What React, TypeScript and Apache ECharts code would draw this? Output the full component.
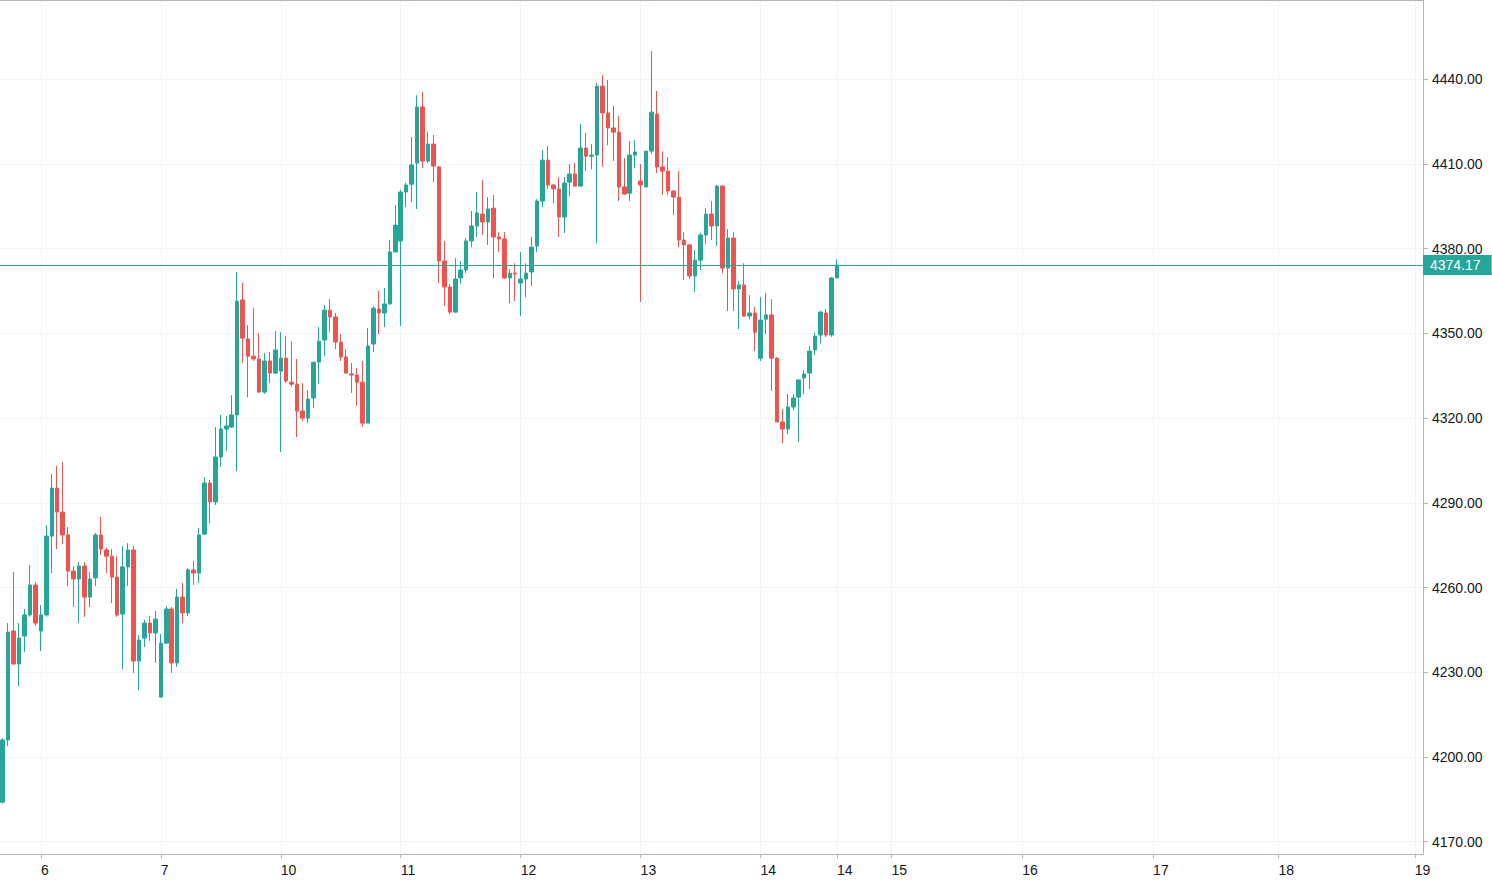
import React, { useEffect, useRef } from "react";
import * as echarts from "echarts";

// Hourly candles (open, high, low, close)
const opens = [
  4184.0, 4206.0, 4244.6, 4232.9, 4242.8, 4250.3, 4260.9, 4244.6, 4250.3, 4278.2,
  4295.2, 4286.7, 4278.6, 4265.8, 4263.0, 4267.6, 4256.6, 4263.4, 4278.6, 4273.3,
  4271.1, 4263.7, 4250.6, 4267.3, 4273.3, 4234.0, 4242.1, 4247.4, 4243.9, 4221.2,
  4240.3, 4252.4, 4233.3, 4256.6, 4251.0, 4266.2, 4265.1, 4278.9, 4297.0, 4290.3,
  4306.2, 4316.1, 4316.8, 4321.1, 4361.8, 4348.0, 4341.9, 4340.9, 4329.2, 4340.2,
  4335.9, 4336.6, 4341.2, 4332.7, 4332.0, 4322.5, 4320.0, 4327.1, 4339.8, 4347.6,
  4358.2, 4355.8, 4346.9, 4341.6, 4335.6, 4335.2, 4332.7, 4318.2, 4346.2, 4358.6,
  4357.2, 4360.4, 4378.8, 4382.7, 4400.0, 4402.8, 4410.3, 4430.1, 4411.0, 4417.0,
  4408.9, 4375.6, 4366.4, 4357.5, 4369.6, 4372.4, 4382.7, 4388.0, 4392.2, 4389.4,
  4394.3, 4384.1, 4383.4, 4369.6, 4371.3, 4367.8, 4369.2, 4371.7, 4380.9, 4396.8,
  4411.3, 4402.5, 4401.1, 4391.2, 4403.5, 4406.4, 4402.1, 4415.6, 4412.7, 4413.1,
  4437.5, 4428.0, 4422.7, 4421.2, 4401.8, 4399.6, 4413.1, 4403.9, 4401.8, 4414.5,
  4427.6, 4408.9, 4407.4, 4400.4, 4398.2, 4383.0, 4381.3, 4370.3, 4375.9, 4384.8,
  4392.2, 4388.0, 4402.1, 4373.1, 4383.7, 4365.7, 4367.1, 4356.1, 4357.2, 4341.2,
  4355.0, 4356.5, 4341.2, 4318.6, 4316.1, 4323.9, 4327.4, 4334.2, 4335.9, 4344.1,
  4349.4, 4357.2, 4349.4, 4369.6,
];
const highs = [
  4206.7, 4247.4, 4265.5, 4247.4, 4252.4, 4268.0, 4261.9, 4253.8, 4282.1, 4300.2,
  4303.0, 4304.4, 4281.4, 4267.6, 4269.0, 4269.0, 4265.5, 4279.3, 4285.0, 4274.0,
  4273.6, 4271.1, 4274.7, 4275.7, 4274.7, 4243.2, 4248.5, 4249.9, 4251.7, 4243.5,
  4253.4, 4253.1, 4259.5, 4261.6, 4266.9, 4269.4, 4281.1, 4299.1, 4298.1, 4316.8,
  4321.1, 4320.7, 4328.1, 4371.7, 4367.8, 4352.9, 4358.9, 4350.1, 4343.0, 4343.4,
  4350.8, 4350.4, 4349.0, 4347.2, 4340.9, 4332.4, 4329.9, 4339.8, 4352.2, 4360.0,
  4362.1, 4357.2, 4349.7, 4344.4, 4339.5, 4337.7, 4340.2, 4351.9, 4359.6, 4365.0,
  4366.0, 4383.0, 4395.4, 4400.7, 4403.2, 4419.5, 4434.3, 4435.4, 4421.2, 4420.2,
  4409.2, 4382.7, 4367.4, 4376.6, 4375.6, 4383.7, 4393.3, 4400.0, 4404.3, 4398.2,
  4399.0, 4385.8, 4385.8, 4372.7, 4374.8, 4378.8, 4374.8, 4384.1, 4397.5, 4414.9,
  4416.3, 4402.8, 4405.3, 4405.3, 4409.9, 4410.3, 4424.1, 4420.9, 4417.0, 4438.6,
  4441.4, 4439.7, 4430.5, 4426.9, 4412.0, 4418.1, 4418.4, 4409.9, 4414.5, 4449.9,
  4435.8, 4414.5, 4412.4, 4400.4, 4407.4, 4385.8, 4381.6, 4379.5, 4385.5, 4394.3,
  4396.8, 4402.5, 4402.5, 4386.9, 4385.8, 4368.5, 4374.8, 4363.5, 4359.3, 4362.8,
  4364.3, 4362.1, 4341.6, 4323.2, 4328.5, 4328.5, 4333.5, 4337.0, 4345.5, 4350.1,
  4357.9, 4358.6, 4369.9, 4376.2,
];
const lows = [
  4183.5, 4203.9, 4232.6, 4225.1, 4237.2, 4249.6, 4246.4, 4237.5, 4249.6, 4265.1,
  4273.6, 4275.4, 4260.5, 4253.1, 4247.4, 4249.6, 4253.1, 4260.5, 4271.5, 4265.1,
  4254.5, 4249.6, 4231.1, 4260.5, 4229.7, 4223.7, 4238.9, 4241.1, 4233.3, 4221.0,
  4240.3, 4229.7, 4231.9, 4247.4, 4249.9, 4260.9, 4261.6, 4278.6, 4282.8, 4289.2,
  4302.7, 4308.3, 4316.5, 4301.2, 4339.5, 4327.4, 4340.2, 4328.9, 4328.5, 4332.4,
  4335.6, 4308.0, 4332.4, 4331.0, 4313.3, 4318.9, 4318.2, 4323.5, 4332.0, 4341.9,
  4350.4, 4344.4, 4340.2, 4335.9, 4328.9, 4324.2, 4316.8, 4318.2, 4343.4, 4349.7,
  4352.2, 4360.0, 4378.8, 4352.6, 4394.7, 4396.5, 4394.0, 4408.5, 4410.3, 4403.5,
  4367.8, 4359.6, 4356.8, 4357.2, 4367.4, 4371.3, 4380.5, 4384.1, 4384.8, 4381.3,
  4369.6, 4378.8, 4369.2, 4360.7, 4361.4, 4356.1, 4362.8, 4366.7, 4378.8, 4394.7,
  4401.1, 4396.1, 4384.1, 4385.5, 4398.6, 4402.1, 4402.1, 4407.4, 4408.1, 4381.9,
  4408.9, 4416.6, 4411.0, 4396.8, 4399.0, 4396.8, 4408.5, 4361.1, 4401.8, 4413.5,
  4406.7, 4399.0, 4399.0, 4391.9, 4380.5, 4368.9, 4369.2, 4364.6, 4372.4, 4381.6,
  4383.0, 4380.9, 4371.3, 4357.9, 4357.9, 4351.5, 4355.8, 4355.0, 4343.7, 4340.2,
  4349.7, 4329.6, 4318.6, 4311.1, 4314.3, 4322.8, 4311.5, 4328.5, 4330.3, 4342.3,
  4346.5, 4348.7, 4348.7, 4369.6,
];
const closes = [
  4206.0, 4244.2, 4232.9, 4242.1, 4250.3, 4260.9, 4247.4, 4250.3, 4278.2, 4295.2,
  4286.7, 4278.6, 4265.8, 4263.0, 4267.6, 4256.6, 4263.0, 4278.6, 4273.6, 4271.1,
  4263.7, 4250.3, 4267.3, 4273.3, 4234.0, 4241.4, 4247.4, 4243.9, 4248.8, 4240.3,
  4252.4, 4233.3, 4256.6, 4251.0, 4266.2, 4265.1, 4278.6, 4297.0, 4290.3, 4306.2,
  4316.1, 4317.2, 4321.1, 4361.4, 4348.3, 4341.9, 4340.9, 4329.2, 4340.2, 4335.9,
  4344.1, 4341.2, 4333.1, 4332.0, 4322.5, 4320.0, 4326.7, 4339.8, 4347.2, 4358.2,
  4355.8, 4346.9, 4341.6, 4335.9, 4335.2, 4332.7, 4318.2, 4345.5, 4358.9, 4357.2,
  4360.4, 4378.8, 4388.3, 4400.0, 4402.5, 4409.6, 4430.1, 4411.0, 4417.0, 4409.2,
  4375.6, 4366.4, 4357.5, 4369.2, 4372.4, 4382.7, 4388.0, 4392.6, 4389.4, 4394.0,
  4384.1, 4383.4, 4369.6, 4371.3, 4371.0, 4369.2, 4371.3, 4380.5, 4396.8, 4411.3,
  4402.5, 4401.1, 4391.2, 4403.2, 4406.4, 4402.1, 4415.6, 4412.7, 4413.1, 4437.5,
  4428.0, 4422.7, 4421.2, 4401.8, 4399.3, 4413.1, 4414.2, 4402.5, 4414.5, 4428.3,
  4408.9, 4407.4, 4400.4, 4398.2, 4383.0, 4381.3, 4370.3, 4375.9, 4384.8, 4392.2,
  4388.0, 4402.1, 4373.1, 4383.7, 4365.7, 4367.1, 4356.1, 4357.2, 4350.4, 4354.7,
  4356.5, 4341.2, 4318.6, 4316.1, 4323.9, 4327.1, 4333.5, 4335.6, 4343.7, 4349.0,
  4357.5, 4349.4, 4369.6, 4374.17,
];

// Time axis: one slot per hourly bar, including the empty future area
const SLOT_COUNT = 261;
const tickIndex = [7, 29, 51, 73, 95, 117, 139, 153, 163, 187, 211, 234, 259];
const tickLabels = ["6", "7", "10", "11", "12", "13", "14", "14", "15", "16", "17", "18", "19"];

// Price axis
const priceTicks = [4170, 4200, 4230, 4260, 4290, 4320, 4350, 4380, 4410, 4440];
const priceMin = 4165.65;
const priceMax = 4468;

const UP = "#26a69a";
const DOWN = "#ef5350";
const AXIS = "#b2b5be";
const GRIDC = "#f0f3fa";
const TEXT = "#131722";
const FONT = "'Liberation Sans', Arial, sans-serif";

export default function App() {
  const ref = useRef<HTMLDivElement>(null);

  useEffect(() => {
    if (!ref.current) return;
    const chart = echarts.init(ref.current, undefined, { renderer: "svg" });

    const categories = Array.from({ length: SLOT_COUNT }, (_, i) => "s" + i);
    const labelMap = new Map<number, string>();
    tickIndex.forEach((idx, k) => labelMap.set(idx, tickLabels[k]));
    const isTick = (i: number) => labelMap.has(i);

    const candleData = opens.map((o, i) => [o, closes[i], lows[i], highs[i]]);
    const last = closes[closes.length - 1];

    const option: any = {
      animation: false,
      backgroundColor: "#ffffff",
      grid: { left: 0, right: 69, top: 0, bottom: 30, containLabel: false },
      xAxis: [
        {
          type: "category",
          data: categories,
          boundaryGap: true,
          axisLine: { show: true, lineStyle: { color: AXIS, width: 1 } },
          axisTick: {
            show: true,
            interval: (i: number) => isTick(i),
            alignWithLabel: true,
            length: 4,
            lineStyle: { color: AXIS },
          },
          axisLabel: {
            show: true,
            interval: (i: number) => isTick(i),
            formatter: (_v: string, i: number) => labelMap.get(i) ?? "",
            align: "left",
            margin: 9,
            color: TEXT,
            fontSize: 14,
            fontFamily: FONT,
          },
          splitLine: {
            show: true,
            interval: (i: number) => isTick(i),
            alignWithLabel: true,
            lineStyle: { color: GRIDC, width: 1 },
          },
        },
        {
          type: "category",
          data: categories,
          position: "top",
          axisLine: { show: true, lineStyle: { color: AXIS, width: 1 } },
          axisTick: { show: false },
          axisLabel: { show: false },
          splitLine: { show: false },
        },
      ],
      yAxis: {
        type: "value",
        position: "right",
        min: priceMin,
        max: priceMax,
        axisLine: { show: true, lineStyle: { color: AXIS, width: 1 } },
        axisTick: { show: true, customValues: priceTicks, length: 5, lineStyle: { color: AXIS } },
        axisLabel: {
          customValues: priceTicks,
          formatter: (v: number) => v.toFixed(2),
          margin: 9,
          color: TEXT,
          fontSize: 14,
          fontFamily: FONT,
        },
        splitLine: { show: true, lineStyle: { color: GRIDC, width: 1 } },
      },
      series: [
        {
          type: "candlestick",
          xAxisIndex: 0,
          data: candleData,
          barWidth: 4,
          itemStyle: {
            color: UP,
            color0: DOWN,
            borderColor: UP,
            borderColor0: DOWN,
            borderWidth: 1,
          },
          emphasis: { disabled: true },
          markLine: {
            silent: true,
            animation: false,
            symbol: ["none", "none"],
            lineStyle: { color: UP, width: 1.2, type: "solid", opacity: 1 },
            label: {
              show: true,
              position: "end",
              distance: 0,
              formatter: (p: any) => Number(p.value).toFixed(2),
              backgroundColor: UP,
              color: "#ffffff",
              fontSize: 14,
              fontFamily: FONT,
              padding: [3, 11, 3, 7],
            },
            emphasis: { disabled: true },
            data: [{ yAxis: last }],
          },
        },
      ],
    };

    chart.setOption(option);
    return () => chart.dispose();
  }, []);

  return (
    <div
      ref={ref}
      style={{ position: "fixed", left: 0, top: 0, width: 1492, height: 884, background: "#fff" }}
    />
  );
}
